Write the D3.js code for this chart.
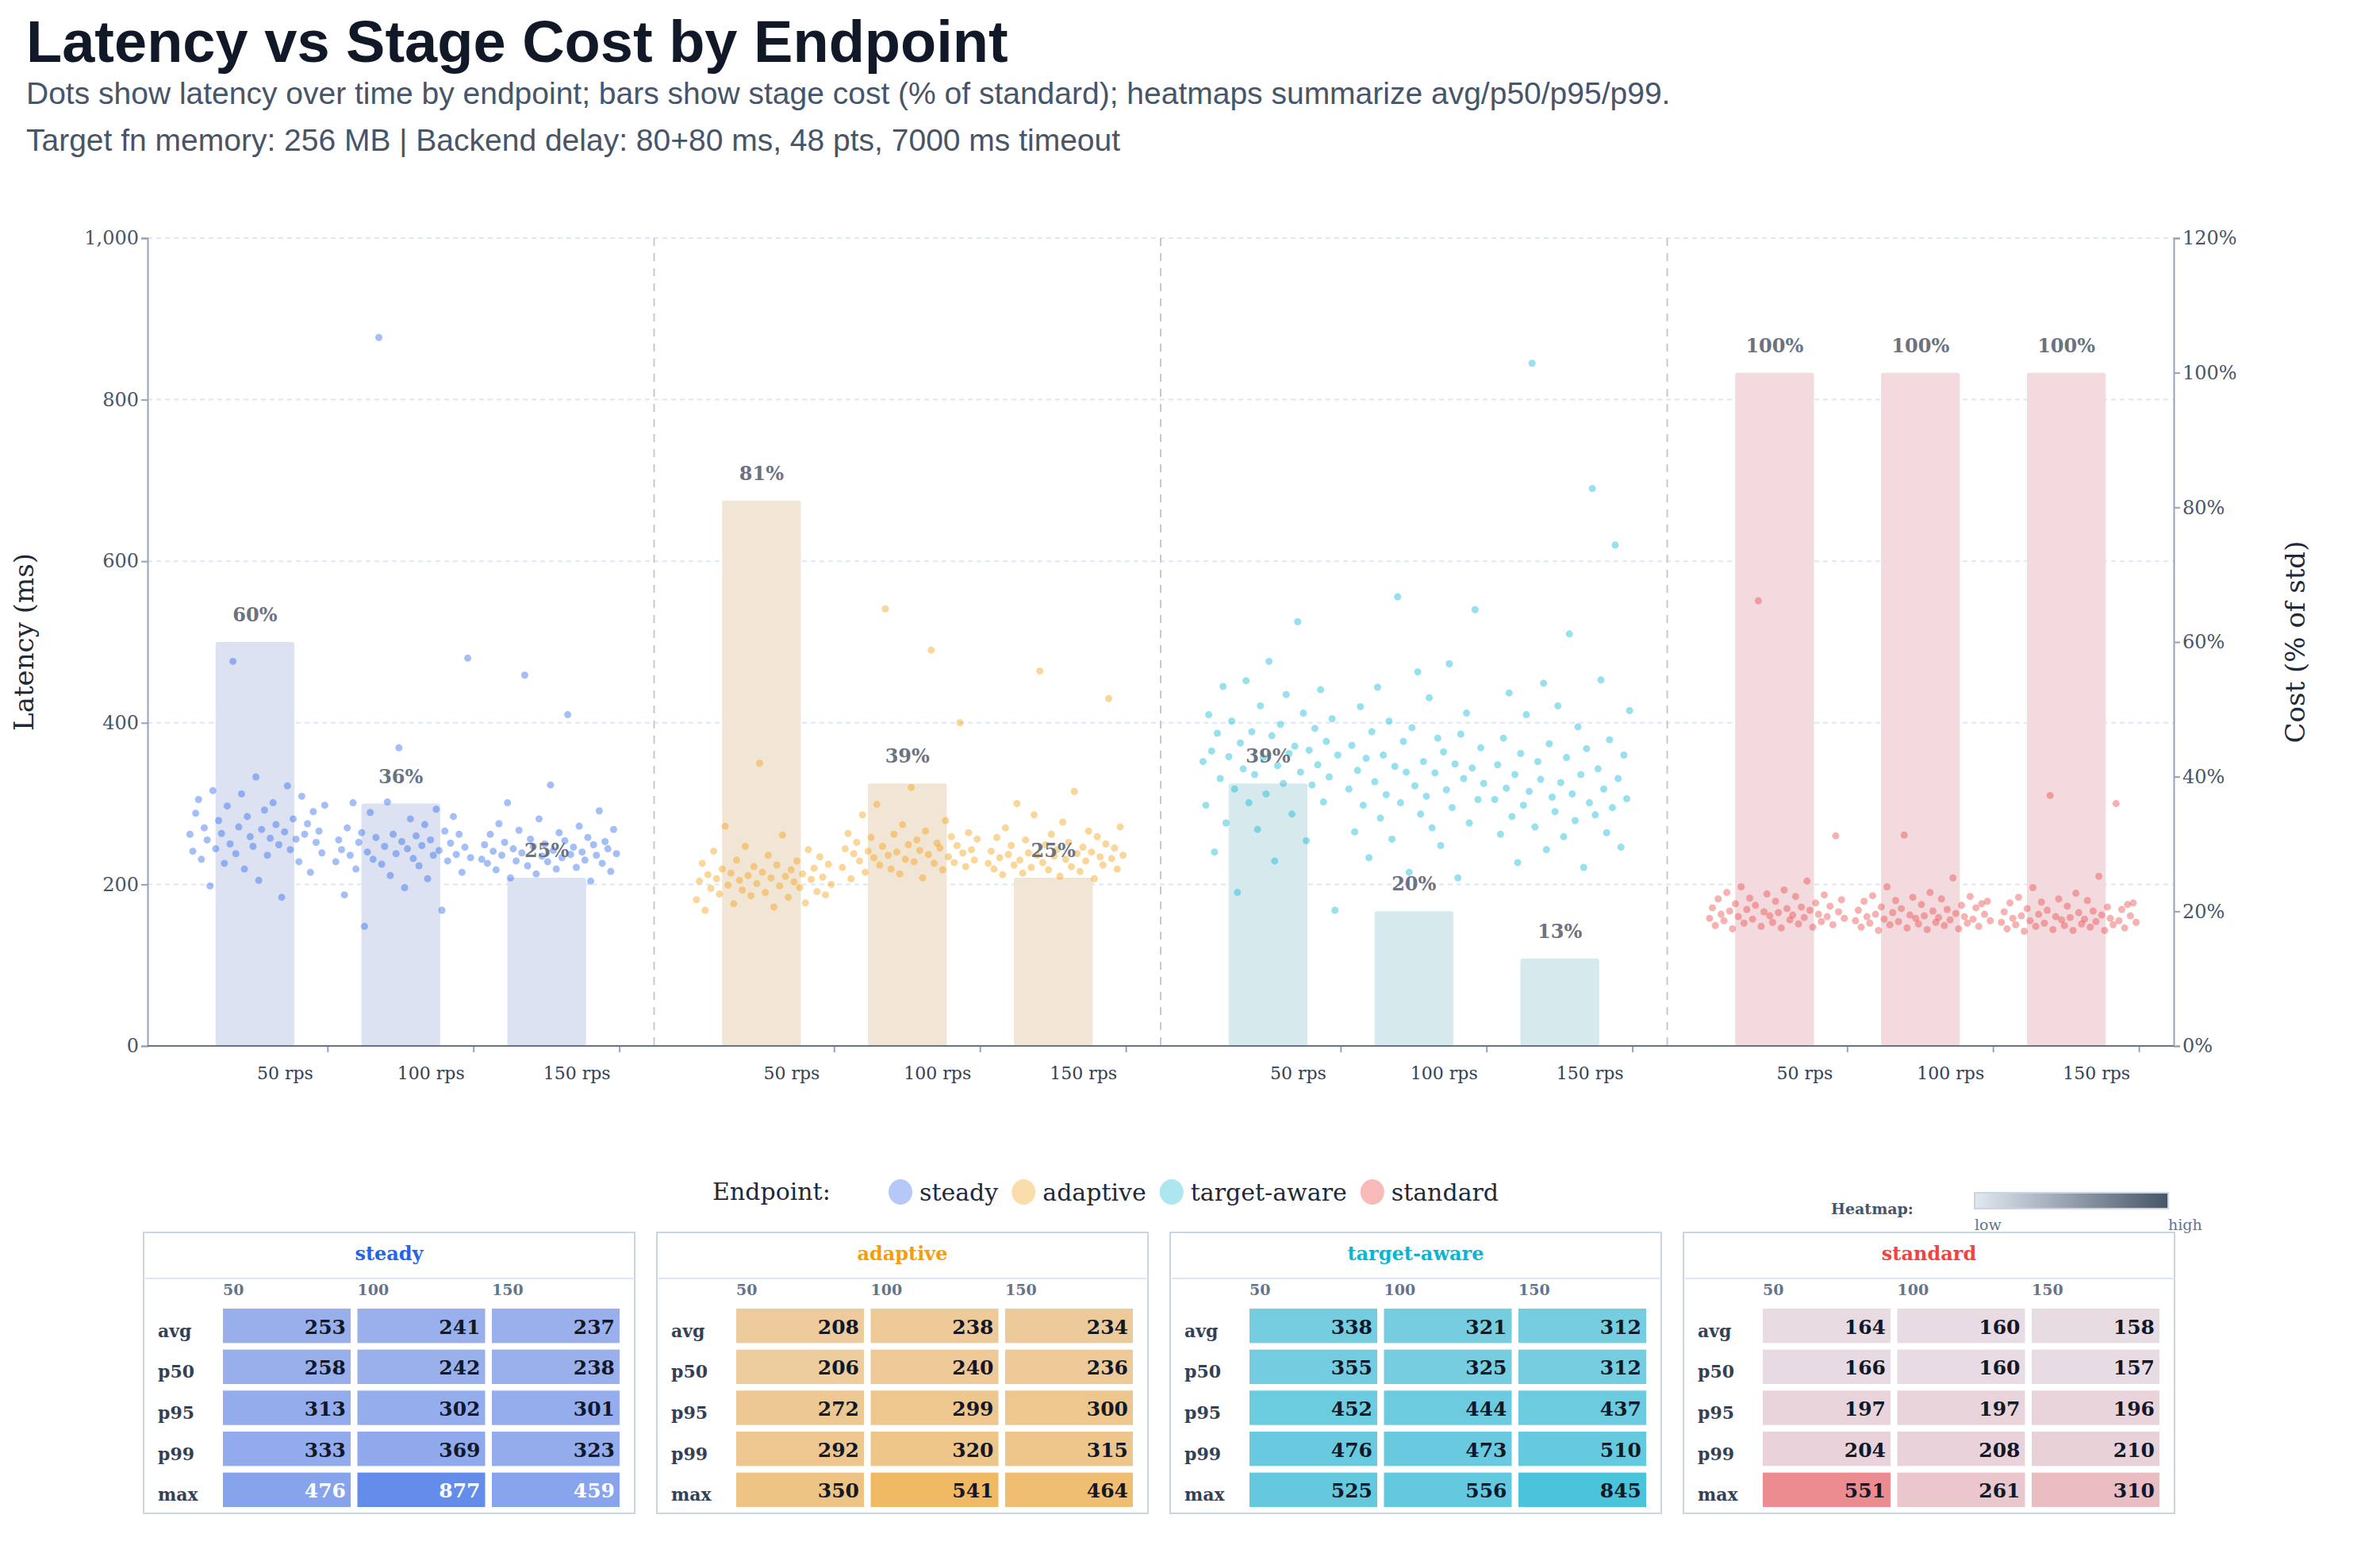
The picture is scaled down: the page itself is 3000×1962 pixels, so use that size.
<!DOCTYPE html>
<html><head><meta charset="utf-8">
<script src="https://cdn.jsdelivr.net/npm/d3@7"></script>
<style>body{margin:0;background:#fff}</style>
</head><body>
<script>
const endpoints = ['steady', 'adaptive', 'target-aware', 'standard'];
const rpsLevels = ['50', '100', '150'];
const colors = ['#2563eb', '#f59e0b', '#06b6d4', '#ef4444'];
const barFills = ['#dde2f2', '#f1e6d5', '#d6eaee', '#f2dade'];
const legendFills = ['#b6c8f7', '#fbdcab', '#ace6ef', '#f8b9b9'];
const costPct = [[60, 36, 25], [81, 39, 25], [39, 20, 13], [100, 100, 100]];
const latencyTicks = [0, 200, 400, 600, 800, 1000];
const costTicks = [0, 20, 40, 60, 80, 100, 120];
const statRows = ['avg', 'p50', 'p95', 'p99', 'max'];

// latency samples (ms), 48 pts per endpoint / rps in time order
const steady50 = [262,241,288,305,231,270,255,198,316,244,279,263,226,297,250,476,238,271,312,219,284,259,247,333,205,268,292,236,257,301,274,249,184,265,322,243,281,256,228,309,262,275,215,290,252,266,239,298];
const steady100 = [228,255,243,187,270,236,301,219,252,264,148,240,289,231,258,877,225,247,302,211,262,238,369,253,196,244,281,232,260,223,248,274,207,255,236,293,242,168,266,229,251,284,237,262,215,246,480,233];
const steady150 = [231,249,226,262,241,218,275,236,252,301,208,244,229,267,239,459,223,256,247,213,281,235,250,228,323,242,219,264,233,254,410,237,246,221,272,240,230,258,204,249,236,291,226,253,244,216,268,238];
const adaptive50 = [181,204,226,168,212,195,241,207,188,219,272,199,214,176,230,205,193,247,211,186,222,201,350,215,190,236,208,172,224,198,261,210,184,218,203,229,196,213,177,243,206,220,191,234,209,187,225,200];
const adaptive100 = [221,244,263,207,238,252,229,286,215,241,258,233,299,224,247,541,236,219,262,240,213,274,231,249,320,228,255,242,208,266,237,490,226,251,245,218,279,234,259,227,248,400,239,222,264,243,230,256];
const adaptive150 = [226,241,219,258,233,212,270,237,248,224,300,230,214,255,239,221,286,236,464,227,249,218,262,235,243,210,277,231,252,222,315,238,216,246,229,266,240,207,259,234,224,250,430,232,245,219,271,236];
const target50 = [352,298,410,365,240,387,331,445,276,358,402,318,190,375,343,452,301,389,336,268,421,357,312,476,384,229,347,398,325,435,362,287,371,525,339,412,254,366,323,393,348,441,302,377,333,405,168,360];
const target100 = [318,372,265,341,420,298,356,233,389,327,444,282,360,311,402,256,346,556,301,377,339,215,394,322,463,287,352,309,431,270,338,381,248,364,317,473,295,349,208,386,331,412,276,344,540,305,369,325];
const target150 = [305,348,262,381,319,437,284,336,227,362,298,410,315,845,271,352,330,449,243,374,308,290,421,326,259,357,510,312,279,395,336,221,368,301,690,286,343,453,318,264,379,295,620,331,246,360,306,415];
const standard50 = [158,171,149,182,163,155,190,167,145,176,160,197,152,169,183,157,174,551,148,166,188,161,153,179,165,146,193,170,156,162,185,151,172,159,204,168,147,177,163,154,187,160,173,150,260,166,181,158];
const standard100 = [155,168,147,179,160,152,186,163,143,172,157,197,150,165,180,154,170,261,146,162,184,158,151,175,161,144,190,167,153,159,182,149,169,156,208,164,145,174,160,152,185,157,171,148,176,163,179,155];
const standard150 = [153,166,145,177,158,150,184,161,142,170,155,196,148,163,178,152,168,310,144,160,182,156,149,173,159,143,189,165,151,157,180,147,167,154,210,162,143,172,158,150,300,155,169,146,175,161,177,153];
const samples = [[steady50, steady100, steady150], [adaptive50, adaptive100, adaptive150], [target50, target100, target150], [standard50, standard100, standard150]];

// heatmap stats: rows avg,p50,p95,p99,max ; cols 50,100,150
const steadyStats = [[253,241,237],[258,242,238],[313,302,301],[333,369,323],[476,877,459]];
const adaptiveStats = [[208,238,234],[206,240,236],[272,299,300],[292,320,315],[350,541,464]];
const targetStats = [[338,321,312],[355,325,312],[452,444,437],[476,473,510],[525,556,845]];
const standardStats = [[164,160,158],[166,160,157],[197,197,196],[204,208,210],[551,261,310]];
const stats = [steadyStats, adaptiveStats, targetStats, standardStats];

const W = 3000, H = 1962;
const serif = '"DejaVu Serif", serif';
const sans = '"Liberation Sans", Arial, sans-serif';
const svg = d3.select('body').append('svg').attr('width', W).attr('height', H);

svg.append('text').attr('x', 33).attr('y', 78).attr('font-family', sans).attr('font-weight', 'bold')
  .attr('font-size', 74).attr('fill', '#111827').text('Latency vs Stage Cost by Endpoint');
svg.append('text').attr('x', 33).attr('y', 131).attr('font-family', sans).attr('font-size', 39).attr('fill', '#475569')
  .text('Dots show latency over time by endpoint; bars show stage cost (% of standard); heatmaps summarize avg/p50/p95/p99.');
svg.append('text').attr('x', 33).attr('y', 190).attr('font-family', sans).attr('font-size', 39).attr('fill', '#475569')
  .text('Target fn memory: 256 MB | Backend delay: 80+80 ms, 48 pts, 7000 ms timeout');

const L = 186, R = 2740, T = 300, B = 1318;
const y = d3.scaleLinear().domain([0, 1000]).range([B, T]);
const yc = d3.scaleLinear().domain([0, 120]).range([B, T]);
const gx = d3.scaleBand().domain(endpoints).range([L, R]);
const gw = gx.bandwidth();
const plot = svg.append('g');

// grid
plot.selectAll('.grid').data(latencyTicks.slice(1)).enter().append('line')
  .attr('x1', L).attr('x2', R).attr('y1', d => y(d)).attr('y2', d => y(d))
  .attr('stroke', '#dbe7f8').attr('stroke-width', 2).attr('stroke-dasharray', '6,5');
// group dividers
plot.selectAll('.div').data(endpoints.slice(1)).enter().append('line')
  .attr('x1', d => gx(d)).attr('x2', d => gx(d)).attr('y1', T).attr('y2', B)
  .attr('stroke', '#c3c9d2').attr('stroke-width', 2).attr('stroke-dasharray', '10,9');

endpoints.forEach((ep, e) => {
  const g0 = gx(ep);
  const s0 = g0 + gw * 0.068, s1 = g0 + gw * 0.932;
  const sx = d3.scaleBand().domain(rpsLevels).range([s0, s1]).paddingInner(0.46).paddingOuter(0.23);
  const step = sx.step();
  rpsLevels.forEach((r, i) => {
    const bx = sx(r);
    plot.append('rect').attr('x', bx).attr('width', sx.bandwidth())
      .attr('y', yc(costPct[e][i])).attr('height', B - yc(costPct[e][i]))
      .attr('rx', 3).attr('fill', barFills[e]);
  });
  rpsLevels.forEach((r, i) => {
    const tx = d3.scaleLinear().domain([0, samples[e][i].length - 1]).range([s0 + i * step + 10, s0 + (i + 1) * step - 4]);
    plot.append('g').selectAll('circle').data(samples[e][i]).enter().append('circle')
      .attr('cx', (d, k) => tx(k)).attr('cy', d => y(d)).attr('r', 4.5)
      .attr('fill', colors[e]).attr('fill-opacity', 0.42);
  });
  rpsLevels.forEach((r, i) => {
    const cx = sx(r) + sx.bandwidth() / 2;
    plot.append('text').attr('x', cx).attr('y', yc(costPct[e][i]) - 26).attr('text-anchor', 'middle')
      .attr('font-family', serif).attr('font-weight', 'bold').attr('font-size', 24).attr('fill', '#6b7280')
      .text(costPct[e][i] + '%');
    plot.append('text').attr('x', cx + 38).attr('y', B + 42).attr('text-anchor', 'middle')
      .attr('font-family', serif).attr('font-size', 22).attr('fill', '#334155').text(r + ' rps');
    plot.append('line').attr('x1', s0 + (i + 1) * step).attr('x2', s0 + (i + 1) * step)
      .attr('y1', B).attr('y2', B + 8).attr('stroke', '#94a3b8').attr('stroke-width', 2);
  });
});

// axes
const yAxis = svg.append('g').attr('transform', `translate(${L},0)`)
  .call(d3.axisLeft(y).tickValues(latencyTicks).tickFormat(d3.format(',')).tickSize(8));
const cAxis = svg.append('g').attr('transform', `translate(${R},0)`)
  .call(d3.axisRight(yc).tickValues(costTicks).tickFormat(d => d + '%').tickSize(8));
[yAxis, cAxis].forEach(a => {
  a.select('.domain').attr('stroke', '#94a3b8').attr('stroke-width', 2);
  a.selectAll('.tick line').attr('stroke', '#94a3b8').attr('stroke-width', 2);
  a.selectAll('.tick text').attr('font-family', serif).attr('font-size', 24).attr('fill', '#475569');
});
svg.append('line').attr('x1', L).attr('x2', R).attr('y1', B).attr('y2', B).attr('stroke', '#64748b').attr('stroke-width', 2);
svg.append('text').attr('transform', `translate(42,${(T + B) / 2}) rotate(-90)`).attr('text-anchor', 'middle')
  .attr('font-family', serif).attr('font-size', 34).attr('fill', '#1f2937').text('Latency (ms)');
svg.append('text').attr('transform', `translate(2905,${(T + B) / 2}) rotate(-90)`).attr('text-anchor', 'middle')
  .attr('font-family', serif).attr('font-size', 34).attr('fill', '#1f2937').text('Cost (% of std)');

// legend
const leg = svg.append('g');
leg.append('text').attr('x', 898).attr('y', 1512).attr('font-family', serif).attr('font-size', 30).attr('fill', '#1f2937').text('Endpoint:');
let lx = 1135;
endpoints.forEach((ep, e) => {
  leg.append('ellipse').attr('cx', lx).attr('cy', 1502).attr('rx', 15).attr('ry', 16).attr('fill', legendFills[e]);
  const t = leg.append('text').attr('x', lx + 24).attr('y', 1513).attr('font-family', serif).attr('font-size', 30).attr('fill', '#1f2937').text(ep);
  lx += 24 + t.node().getComputedTextLength() + 32;
});
const grad = svg.append('defs').append('linearGradient').attr('id', 'hg');
grad.append('stop').attr('offset', '0%').attr('stop-color', '#e2e8f0');
grad.append('stop').attr('offset', '100%').attr('stop-color', '#475569');
svg.append('text').attr('x', 2308).attr('y', 1530).attr('font-family', serif).attr('font-weight', 'bold').attr('font-size', 19).attr('fill', '#475569').text('Heatmap:');
svg.append('rect').attr('x', 2489).attr('y', 1503).attr('width', 244).attr('height', 20).attr('fill', 'url(#hg)').attr('stroke', '#cbd5e1').attr('stroke-width', 2);
svg.append('text').attr('x', 2489).attr('y', 1550).attr('font-family', serif).attr('font-size', 19).attr('fill', '#64748b').text('low');
svg.append('text').attr('x', 2733).attr('y', 1550).attr('font-family', serif).attr('font-size', 19).attr('fill', '#64748b').text('high');

// heatmaps
const tLo = [0.4, 0.35, 0.5, 0.05];
const tHi = [0.68, 0.6, 0.7, 0.55];
endpoints.forEach((ep, e) => {
  const px = 181 + e * 647, py = 1553, pw = 619, ph = 354;
  const g = svg.append('g');
  g.append('rect').attr('x', px).attr('y', py).attr('width', pw).attr('height', ph).attr('fill', '#fff').attr('stroke', '#cbd5e1').attr('stroke-width', 2);
  g.append('text').attr('x', px + pw / 2).attr('y', py + 35).attr('text-anchor', 'middle').attr('font-family', serif)
    .attr('font-weight', 'bold').attr('font-size', 24).attr('fill', colors[e]).text(ep);
  g.append('line').attr('x1', px + 2).attr('x2', px + pw).attr('y1', py + 58).attr('y2', py + 58).attr('stroke', '#dbe7fb').attr('stroke-width', 2);
  const cx = d3.scaleBand().domain(rpsLevels).range([px + 100, px + 600]).paddingInner(0.05);
  const cy = d3.scaleBand().domain(statRows).range([py + 96, py + 346]).paddingInner(0.16);
  const flat = stats[e].flat();
  const norm = d3.scaleLinear().domain(d3.extent(flat)).range([tLo[e], tHi[e]]);
  const col = d3.interpolateRgb('#e8e4ec', colors[e]);
  rpsLevels.forEach(r => g.append('text').attr('x', cx(r)).attr('y', py + 79).attr('font-family', serif)
    .attr('font-weight', 'bold').attr('font-size', 19).attr('fill', '#64748b').text(r));
  statRows.forEach((s, si) => {
    g.append('text').attr('x', px + 18).attr('y', cy(s) + cy.bandwidth() / 2 + 14).attr('font-family', serif)
      .attr('font-weight', 'bold').attr('font-size', 22).attr('fill', '#334155').text(s);
    rpsLevels.forEach((r, ri) => {
      const v = stats[e][si][ri];
      const c = col(norm(v));
      g.append('rect').attr('x', cx(r)).attr('y', cy(s)).attr('width', cx.bandwidth()).attr('height', cy.bandwidth()).attr('fill', c);
      g.append('text').attr('x', cx(r) + cx.bandwidth() - 6).attr('y', cy(s) + cy.bandwidth() / 2 + 10).attr('text-anchor', 'end')
        .attr('font-family', serif).attr('font-weight', 'bold').attr('font-size', 25)
        .attr('fill', d3.lab(c).l < 68 ? '#ffffff' : '#111827').text(v);
    });
  });
});
</script>
</body></html>
